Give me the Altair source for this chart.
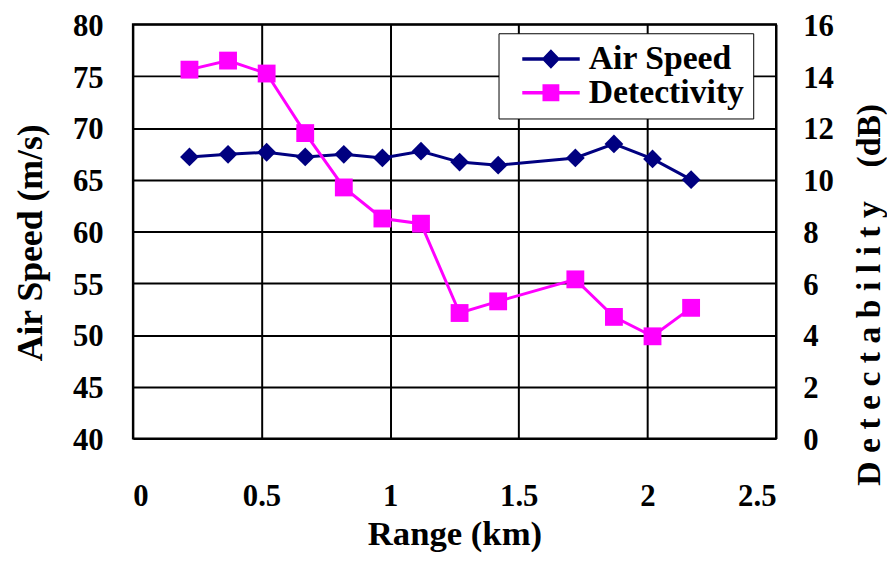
import altair as alt
import pandas as pd

# ---- data ----
range_km = [0.22, 0.37, 0.52, 0.67, 0.82, 0.97, 1.12, 1.27, 1.42, 1.72, 1.87, 2.02, 2.17]
air_speed = [67.2, 67.45, 67.65, 67.2, 67.45, 67.1, 67.75, 66.7, 66.4, 67.1, 68.45, 67.0, 65.0]
detectivity = [14.25, 14.6, 14.1, 11.8, 9.7, 8.5, 8.3, 4.85, 5.3, 6.15, 4.7, 3.95, 5.05]

series_names = ["Air Speed", "Detectivity"]
series_colors = ["#000080", "#FF00FF"]

x_ticks = [0, 0.5, 1, 1.5, 2, 2.5]
left_ticks = [40, 45, 50, 55, 60, 65, 70, 75, 80]
right_ticks = [0, 2, 4, 6, 8, 10, 12, 14, 16]

df_air = pd.DataFrame({"range": range_km, "value": air_speed, "series": series_names[0]})
df_det = pd.DataFrame({"range": range_km, "value": detectivity, "series": series_names[1]})

FONT = "Liberation Serif"

# legend symbols (unit = 17 px): a short line with the marker on it
diamond_path = "M-0.12,-0.1L3.29,-0.1L3.29,0.1L-0.12,0.1Z M1.58,-0.58L2.13,0L1.58,0.58L1.03,0Z"
square_path = "M-0.12,-0.1L3.29,-0.1L3.29,0.1L-0.12,0.1Z M1.08,-0.5L2.08,-0.5L2.08,0.5L1.08,0.5Z"

legend = alt.Legend(
    title=None,
    orient="none",
    legendX=369,
    legendY=9,
    fillColor="white",
    strokeColor="black",
    padding=9,
    labelFont=FONT,
    labelFontSize=34,
    labelFontWeight="bold",
    labelColor="black",
    labelOffset=48,
    symbolSize=1156,
    symbolOpacity=1,
    symbolStrokeWidth=0,
    rowPadding=0,
)

x_enc = alt.X(
    "range:Q",
    scale=alt.Scale(domain=[0, 2.5], nice=False, zero=False),
    axis=alt.Axis(
        values=x_ticks,
        format="~g",
        title="Range (km)",
        grid=True,
        ticks=False,
        tickSize=0,
        domain=False,
        labelBaseline="alphabetic",
        labelPadding=68,
        titleBaseline="alphabetic",
        titleY=107,
    ),
)

y_left = alt.Y(
    "value:Q",
    scale=alt.Scale(domain=[40, 80], nice=False, zero=False),
    axis=alt.Axis(
        orient="left",
        values=left_ticks,
        title="Air Speed (m/s)",
        grid=True,
        ticks=False,
        tickSize=0,
        domain=False,
        labelPadding=30,
        labelOffset=2,
        titleAngle=270,
        titleAlign="center",
        titleBaseline="middle",
        titleFontSize=36,
        titleX=-103,
        titleY=220,
    ),
)

right_title = "\u2005".join("Detectability") + "\u00a0\u00a0\u00a0\u00a0(dB)"

y_right = alt.Y(
    "value:Q",
    scale=alt.Scale(domain=[0, 16], nice=False, zero=False),
    axis=alt.Axis(
        orient="right",
        values=right_ticks,
        title=right_title,
        grid=False,
        ticks=False,
        tickSize=0,
        domain=False,
        labelPadding=27,
        labelOffset=2,
        titleAngle=270,
        titleAlign="left",
        titleBaseline="alphabetic",
        titleFontSize=34,
        titleX=104,
        titleY=465,
    ),
)

air = alt.Chart(df_air).mark_line(
    strokeWidth=3,
    color=series_colors[0],
    point=alt.OverlayMarkDef(shape="diamond", size=360, filled=True, opacity=1, color=series_colors[0]),
).encode(
    x=x_enc,
    y=y_left,
)

# invisible layer that only carries the combined legend
legend_layer = alt.Chart(df_air).mark_point(filled=True, opacity=0).encode(
    x=x_enc,
    y=y_left,
    color=alt.Color(
        "series:N",
        scale=alt.Scale(domain=series_names, range=series_colors),
        legend=legend,
    ),
    shape=alt.Shape(
        "series:N",
        scale=alt.Scale(domain=series_names, range=[diamond_path, square_path]),
        legend=legend,
    ),
)

det = alt.Chart(df_det).mark_line(
    strokeWidth=3,
    color=series_colors[1],
    point=alt.OverlayMarkDef(shape="square", size=324, filled=True, opacity=1, color=series_colors[1]),
).encode(
    x=x_enc,
    y=y_right,
)

left_layer = alt.layer(air, legend_layer)

chart = (
    alt.layer(left_layer, det)
    .resolve_scale(y="independent")
    .properties(
        width=649,
        height=418,
        autosize=alt.AutoSizeParams(type="none"),
        padding={"left": 126, "top": 14, "right": 112, "bottom": 116},
        background="white",
    )
    .configure_view(stroke="black", strokeWidth=2)
    .configure_axis(
        labelFont=FONT,
        labelFontSize=31,
        labelFontWeight="bold",
        labelColor="black",
        titleFont=FONT,
        titleFontSize=35,
        titleFontWeight="bold",
        titleColor="black",
        gridColor="black",
        gridWidth=2,
        gridOpacity=1,
    )
)

chart.save("out.html", embed_options={"renderer": "svg", "actions": False})
